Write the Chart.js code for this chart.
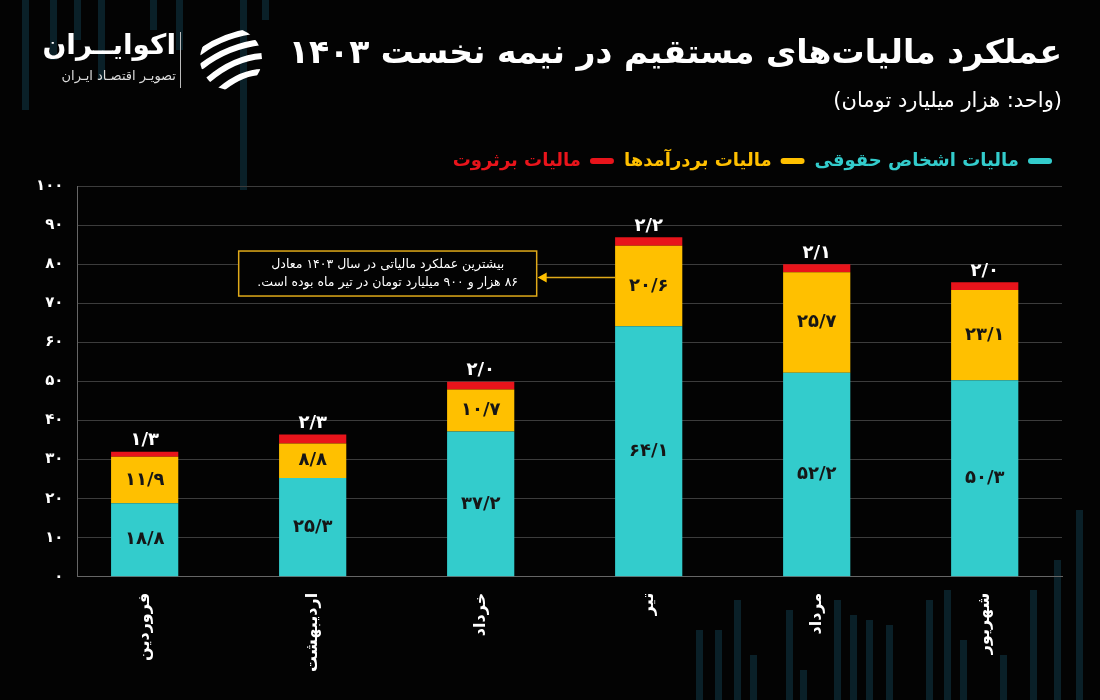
<!DOCTYPE html>
<html lang="fa">
  <head>
    <meta charset="utf-8" />
    <script src="https://cdn.jsdelivr.net/npm/chart.js"></script>
    <style>
      html, body { margin: 0; padding: 0; background: #030303; }
      #wrap { position: relative; width: 1100px; height: 700px; overflow: hidden; background: #030303; font-family: 'DejaVu Sans', sans-serif; }
      #deco { position: absolute; inset: 0; }
      #deco div { position: absolute; background: #0a2028; width: 7px; }
      canvas { position: absolute; left: 0; top: 0; }
      .title { position: absolute; right: 38px; top: 32px; color: #fff; font-weight: bold; font-size: 33px; direction: rtl; white-space: nowrap; }
      .unit { position: absolute; right: 38px; top: 88px; color: #fff; font-size: 21px; direction: rtl; white-space: nowrap; }
      .logo-name { position: absolute; right: 924px; top: 28px; color: #fff; font-weight: bold; font-size: 28px; direction: rtl; white-space: nowrap; }
      .logo-sub { position: absolute; right: 924px; top: 68px; color: #ddd; font-size: 13px; direction: rtl; white-space: nowrap; }
      .logo-sep { position: absolute; left: 180px; top: 32px; width: 1px; height: 56px; background: #bbb; }
      .logo-icon { position: absolute; left: 198px; top: 26px; }
    </style>
  </head>
  <body>
    <div id="wrap">
      <div id="deco"></div>
      <canvas id="chart" width="1100" height="700"></canvas>
      <svg class="logo-icon" width="66" height="66" viewBox="0 0 66 66">
        <defs><clipPath id="c"><circle cx="33" cy="33" r="31" /></clipPath></defs>
        <g clip-path="url(#c)" stroke="#fff" stroke-width="6" fill="none" stroke-linecap="round">
          <path d="M2 26 Q26 8 62 4" />
          <path d="M4 40 Q30 20 64 16" />
          <path d="M10 54 Q36 32 64 30" />
          <path d="M22 64 Q44 46 64 46" />
        </g>
      </svg>
      <div class="logo-sep"></div>
      <div class="logo-name">اکوایــران</div>
      <div class="logo-sub">تصویـر اقتصـاد ایـران</div>
      <div class="title">عملکرد مالیات‌های مستقیم در نیمه نخست ۱۴۰۳</div>
      <div class="unit">(واحد: هزار میلیارد تومان)</div>
    </div>
    <script type="text/javascript">
      const months = ['فروردین', 'اردیبهشت', 'خرداد', 'تیر', 'مرداد', 'شهریور'];
      const corporateTax = [18.8, 25.3, 37.2, 64.1, 52.2, 50.3];
      const incomeTax = [11.9, 8.8, 10.7, 20.6, 25.7, 23.1];
      const wealthTax = [1.3, 2.3, 2.0, 2.2, 2.1, 2.0];
      const seriesNames = ['مالیات اشخاص حقوقی', 'مالیات بردرآمدها', 'مالیات برثروت'];
      const yTicks = [0, 10, 20, 30, 40, 50, 60, 70, 80, 90, 100];
      const noteLines = ['بیشترین عملکرد مالیاتی در سال ۱۴۰۳ معادل', '۸۶ هزار و ۹۰۰ میلیارد تومان در تیر ماه بوده است.'];

      // faint background strips (decoration only)
      const decoStrips = [
        [22, 0, 110], [50, 0, 60], [74, 0, 40], [98, 0, 80], [150, 0, 30], [176, 0, 50], [240, 0, 190], [262, 0, 20],
        [696, 630, 70], [715, 630, 70], [734, 600, 100], [750, 655, 45], [786, 610, 90], [800, 670, 30], [834, 600, 100],
        [850, 615, 85], [866, 620, 80], [886, 625, 75], [926, 600, 100], [944, 590, 110], [960, 640, 60],
        [1000, 655, 45], [1030, 590, 110], [1054, 560, 140], [1076, 510, 190],
      ];
      const deco = document.getElementById('deco');
      decoStrips.forEach(([x, y, h]) => {
        const d = document.createElement('div');
        d.style.left = x + 'px';
        d.style.top = y + 'px';
        d.style.height = h + 'px';
        deco.appendChild(d);
      });

      const faDigits = '۰۱۲۳۴۵۶۷۸۹';
      const fa = (s) => String(s).replace('.', '/').replace(/\d/g, (d) => faDigits[d]);

      const colors = ['#33cccc', '#ffc000', '#e8141b'];
      const font = "'DejaVu Sans', sans-serif";
      const toPoints = (arr) => arr.map((v, i) => ({ x: i, y: v }));

      // push the plot down a little below the legend
      const legendGap = {
        id: 'legendGap',
        beforeInit(chart) {
          const fit = chart.legend.fit;
          chart.legend.fit = function () {
            fit.bind(chart.legend)();
            this.height += 6;
          };
        },
      };

      const barLabels = {
        id: 'barLabels',
        afterDatasetsDraw(chart) {
          const ctx = chart.ctx;
          ctx.save();
          ctx.textAlign = 'center';
          ctx.font = 'bold 18px ' + font;
          chart.data.datasets.forEach((ds, i) => {
            const meta = chart.getDatasetMeta(i);
            meta.data.forEach((bar, j) => {
              const txt = fa(ds.data[j].y.toFixed(1));
              if (i < 2) {
                ctx.fillStyle = '#161616';
                ctx.textBaseline = 'middle';
                ctx.fillText(txt, bar.x, (bar.y + bar.base) / 2);
              } else {
                ctx.fillStyle = '#ffffff';
                ctx.textBaseline = 'bottom';
                ctx.fillText(txt, bar.x, bar.y - 2);
              }
            });
          });
          ctx.restore();
        },
      };

      const note = {
        id: 'note',
        afterDraw(chart) {
          const ctx = chart.ctx;
          const xs = chart.scales.x;
          const ys = chart.scales.y;
          const cx = (xs.getPixelForValue(1) + xs.getPixelForValue(2)) / 2 - 9;
          const cy = ys.getPixelForValue(77.6);
          const w = 298, h = 45;
          const tir = chart.getDatasetMeta(1).data[3];
          const target = tir.x - tir.width / 2;
          const ay = cy + 4;
          ctx.save();
          ctx.fillStyle = '#030303';
          ctx.fillRect(cx - w / 2, cy - h / 2, w, h);
          ctx.strokeStyle = '#e0aa1a';
          ctx.lineWidth = 1.5;
          ctx.strokeRect(cx - w / 2, cy - h / 2, w, h);
          ctx.beginPath();
          ctx.moveTo(cx + w / 2 + 8, ay);
          ctx.lineTo(target, ay);
          ctx.stroke();
          ctx.fillStyle = '#ffc000';
          ctx.beginPath();
          ctx.moveTo(cx + w / 2 + 1, ay);
          ctx.lineTo(cx + w / 2 + 10, ay - 5);
          ctx.lineTo(cx + w / 2 + 10, ay + 5);
          ctx.closePath();
          ctx.fill();
          ctx.direction = 'rtl';
          ctx.textAlign = 'center';
          ctx.textBaseline = 'middle';
          ctx.fillStyle = '#ffffff';
          ctx.font = '12.5px ' + font;
          ctx.fillText(noteLines[0], cx, cy - 9);
          ctx.fillText(noteLines[1], cx, cy + 9);
          ctx.restore();
        },
      };

      new Chart(document.getElementById('chart'), {
        type: 'bar',
        data: {
          datasets: [
            { label: seriesNames[0], data: toPoints(corporateTax), backgroundColor: colors[0] },
            { label: seriesNames[1], data: toPoints(incomeTax), backgroundColor: colors[1] },
            { label: seriesNames[2], data: toPoints(wealthTax), backgroundColor: colors[2] },
          ],
        },
        options: {
          responsive: false,
          animation: false,
          layout: { padding: { top: 142, left: 22, right: 38, bottom: 20 } },
          datasets: { bar: { barPercentage: 0.4, categoryPercentage: 1 } },
          scales: {
            x: {
              type: 'linear',
              stacked: true,
              offset: false,
              min: -0.4,
              max: 5.46,
              afterBuildTicks: (axis) => { axis.ticks = months.map((m, i) => ({ value: i })); },
              grid: { display: false },
              border: { display: true, color: '#666' },
              ticks: {
                color: '#ffffff',
                font: { family: font, size: 16, weight: 'bold' },
                minRotation: 90,
                maxRotation: 90,
                padding: 8,
                autoSkip: false,
                callback: (v) => months[v],
              },
            },
            y: {
              stacked: true,
              min: 0,
              max: 100,
              afterBuildTicks: (axis) => { axis.ticks = yTicks.map((v) => ({ value: v })); },
              grid: { color: '#3c3c3c', drawTicks: false },
              border: { display: true, color: '#666' },
              ticks: {
                color: '#ffffff',
                font: { family: font, size: 15, weight: 'bold' },
                padding: 14,
                callback: (v) => fa(v),
              },
            },
          },
          plugins: {
            tooltip: { enabled: false },
            legend: {
              position: 'top',
              align: 'start',
              rtl: true,
              textDirection: 'rtl',
              labels: {
                font: { family: font, size: 18, weight: 'bold' },
                boxWidth: 24,
                boxHeight: 6,
                useBorderRadius: true,
                borderRadius: 3,
                padding: 10,
                generateLabels: (chart) =>
                  chart.data.datasets.map((ds, i) => ({
                    text: ds.label,
                    fillStyle: colors[i],
                    strokeStyle: colors[i],
                    lineWidth: 0,
                    fontColor: colors[i],
                    borderRadius: 3,
                    datasetIndex: i,
                  })),
              },
            },
          },
        },
        plugins: [legendGap, barLabels, note],
      });
    </script>
  </body>
</html>
